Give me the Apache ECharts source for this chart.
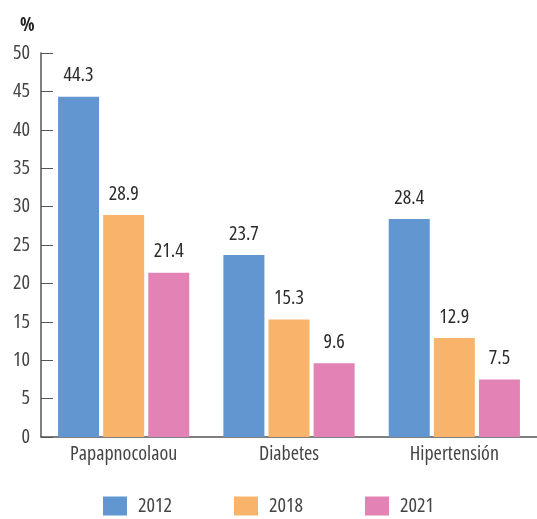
<!DOCTYPE html>
<html><head><meta charset="utf-8">
<script src="https://cdn.jsdelivr.net/npm/echarts@6/dist/echarts.min.js"></script>
<style>html,body{margin:0;padding:0;background:#fff}#c{width:537px;height:519px}</style>
</head><body><div id="c"></div>
<script>
const categories = ['Papapnocolaou', 'Diabetes', 'Hipertensión'];
const seriesNames = ['2012', '2018', '2021'];
const values2012 = [44.3, 23.7, 28.4];
const values2018 = [28.9, 15.3, 12.9];
const values2021 = [21.4, 9.6, 7.5];
const colors = ['#6196d0', '#f9b46b', '#e382b5'];
const FONT = '"Open Sans", "Roboto", sans-serif';

const chart = echarts.init(document.getElementById('c'), null, {renderer: 'canvas'});
const data = [values2012, values2018, values2021];
chart.setOption({
  animation: false,
  title: {text: '%', left: 15, top: 11, textStyle: {fontSize: 19, fontWeight: 'bold condensed', color: '#222', fontFamily: FONT}},
  grid: {left: 41, right: -5, top: 53, bottom: 82, containLabel: false},
  legend: {
    bottom: -2, left: 'center', itemWidth: 24, itemHeight: 19, itemGap: 62,
    icon: 'rect',
    textStyle: {fontSize: 20, color: '#444', fontFamily: FONT, fontWeight: 'condensed', padding: [0, 0, 0, 6]},
    data: seriesNames
  },
  xAxis: {
    type: 'category', data: categories,
    axisLine: {lineStyle: {color: '#555', width: 1.5}},
    axisTick: {inside: true, length: 9, lineStyle: {color: '#555'}},
    axisLabel: {interval: 0, fontSize: 20, color: '#444', margin: 7, fontFamily: FONT, fontWeight: 'condensed'}
  },
  yAxis: {
    type: 'value', min: 0, max: 50, interval: 5,
    splitLine: {show: false},
    axisLine: {show: true, lineStyle: {color: '#555', width: 1.5}},
    axisTick: {show: true, inside: true, length: 12, lineStyle: {color: '#555'}},
    axisLabel: {fontSize: 20, color: '#444', margin: 11, fontFamily: FONT, fontWeight: 'condensed'}
  },
  series: seriesNames.map((n, i) => ({
    name: n, type: 'bar', data: data[i], barWidth: 41, barGap: '10%',
    itemStyle: {color: colors[i]},
    label: {show: true, position: 'top', distance: 11, fontSize: 20, color: '#2a2a2a', fontFamily: FONT,
      fontWeight: '500 condensed', formatter: p => p.value.toFixed(1)}
  }))
});
</script></body></html>
